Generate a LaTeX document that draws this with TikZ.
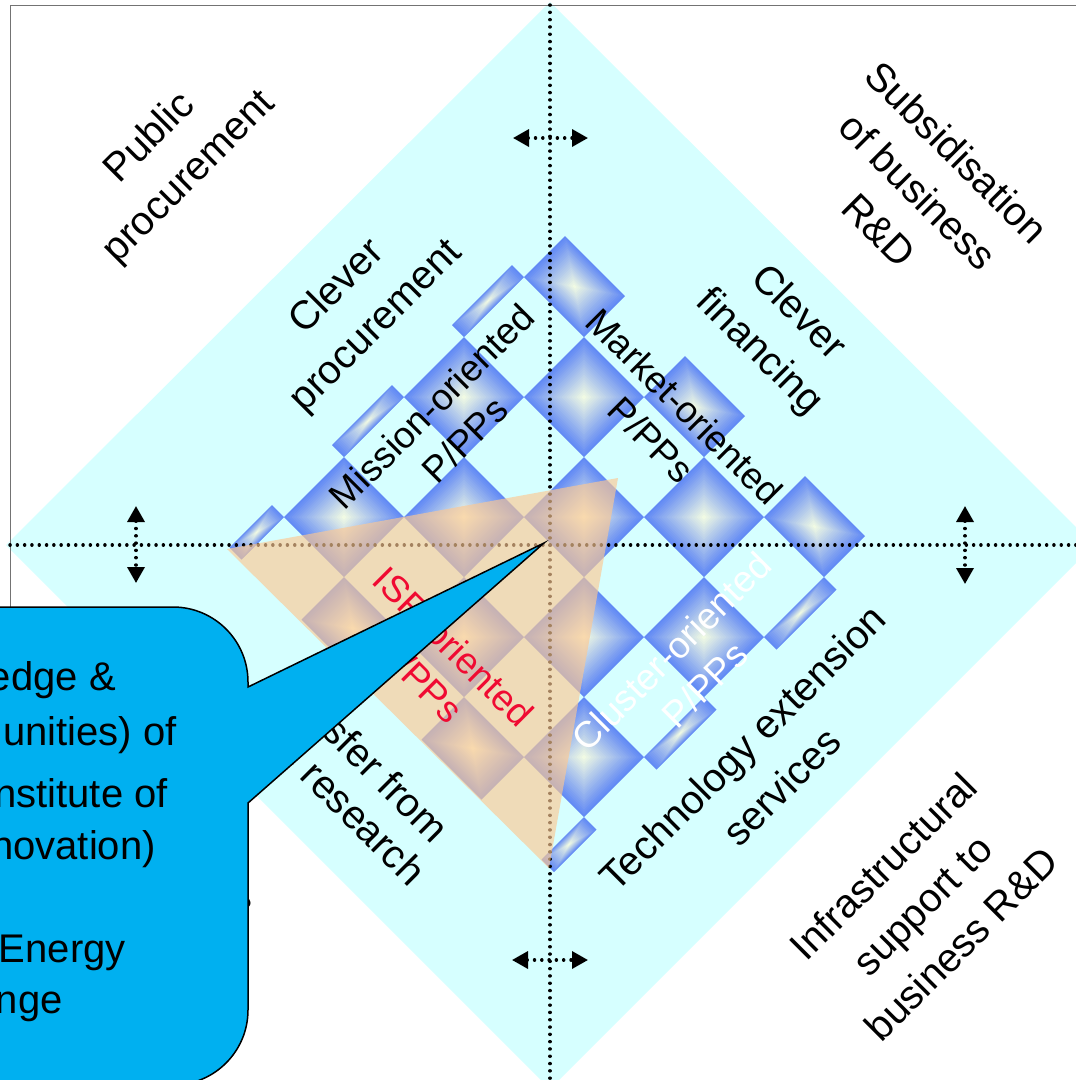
\documentclass[tikz,border=0pt]{standalone}
\usepackage{fontspec}
\setmainfont{Liberation Sans}
\usetikzlibrary{arrows.meta}
\definecolor{dcyan}{RGB}{214,255,255}
\definecolor{gcb}{RGB}{98,138,245}
\definecolor{gcl}{RGB}{240,250,228}
\definecolor{isror}{RGB}{253,200,146}
\definecolor{isrred}{RGB}{240,10,50}
\definecolor{callb}{RGB}{0,176,240}
\newcommand\gcell[4]{%
  \pgfmathsetmacro\gsc{(#1+#2)/2}%
  \pgfmathsetmacro\gdc{(#3+#4)/2}%
  \pgfmathsetmacro\ghs{(#2-#1)/2}%
  \pgfmathsetmacro\ghd{(#4-#3)/2}%
  \foreach \k in {0,...,23}{%
    \pgfmathsetmacro\gf{1-\k/24}%
    \pgfmathtruncatemacro\gp{100*\k/23}%
    \fill[gcl!\gp!gcb] (\gsc-\gf*\ghs,\gdc-\gf*\ghd) -- (\gsc+\gf*\ghs,\gdc-\gf*\ghd)
      -- (\gsc+\gf*\ghs,\gdc+\gf*\ghd) -- (\gsc-\gf*\ghs,\gdc+\gf*\ghd) -- cycle;
  }}
\tikzset{
  dotln/.style={line width=3.4pt, line cap=round, dash pattern=on 0.1pt off 7.2pt, black},
  dblarr/.style={dotln, {Triangle[length=16pt,width=17pt]}-{Triangle[length=16pt,width=17pt]}},
  lab/.style={font=\fontsize{40}{55}\selectfont, align=center, inner sep=0pt},
  plab/.style={font=\fontsize{37}{47}\selectfont, align=center, inner sep=0pt},
  cline/.style={font=\fontsize{40}{46}\selectfont, inner sep=0pt, anchor=base east},
}
\begin{document}
\begin{tikzpicture}[x=1pt,y=-1pt]
\useasboundingbox (0,0) rectangle (1076,1080);
\begin{scope}
\clip (0,0) rectangle (1076,1080);
% big cyan diamond
\coordinate (dT) at (550,2);
\coordinate (dR) at (1094,545);
\coordinate (dB) at (550,1089);
\coordinate (dL) at (6,545);
\fill[dcyan] (dT) -- (dR) -- (dB) -- (dL) -- cycle;
% frame
\draw[black!55, line width=1pt] (10,1100) -- (10,5) -- (1100,5);
% checkerboard of shaded cells
\begin{scope}[shift={(548pt,-545pt)}, x={(0.5pt,-0.5pt)}, y={(0.5pt,0.5pt)}]
 \gcell{-292}{-172}{244}{326}
 \gcell{-52}{68}{244}{326}
 \gcell{188}{308}{244}{326}
 \gcell{-316}{-292}{124}{244}
 \gcell{-172}{-52}{124}{244}
 \gcell{68}{188}{124}{244}
 \gcell{308}{333}{124}{244}
 \gcell{-292}{-172}{4}{124}
 \gcell{-52}{68}{4}{124}
 \gcell{188}{308}{4}{124}
 \gcell{-316}{-292}{-116}{4}
 \gcell{-172}{-52}{-116}{4}
 \gcell{68}{188}{-116}{4}
 \gcell{308}{333}{-116}{4}
 \gcell{-292}{-172}{-236}{-116}
 \gcell{-52}{68}{-236}{-116}
 \gcell{188}{308}{-236}{-116}
 \gcell{-316}{-292}{-321}{-236}
 \gcell{-172}{-52}{-321}{-236}
 \gcell{68}{188}{-321}{-236}
 \gcell{308}{333}{-321}{-236}
\end{scope}
% axes
\coordinate (axL) at (10,545);
\coordinate (axR) at (1080,545);
\coordinate (axT) at (550,5);
\coordinate (axB) at (550,1085);
\draw[dotln] (axL) -- (axR);
\draw[dotln] (axT) -- (axB);
% double arrows
\coordinate (aTl) at (513,138); \coordinate (aTr) at (588,138);
\coordinate (aBl) at (512,960); \coordinate (aBr) at (588,960);
\coordinate (aLt) at (136,506); \coordinate (aLb) at (136,583);
\coordinate (aRt) at (965,506); \coordinate (aRb) at (965,584);
\draw[dblarr] (aTl) -- (aTr);
\draw[dblarr] (aBl) -- (aBr);
\draw[dblarr] (aLt) -- (aLb);
\draw[dblarr] (aRt) -- (aRb);
% ISR triangle
\coordinate (t1) at (227,549);
\coordinate (t2) at (618,478);
\coordinate (t3) at (549,868);
\fill[isror, fill opacity=0.65] (t1) -- (t2) -- (t3) -- cycle;
% labels
\node[lab, rotate=45] (pubproc) at (170,158) {Public\\procurement};
\node[lab, rotate=45] (clevproc) at (357,307) {Clever\\procurement};
\node[plab, rotate=45] (mission) at (448,423) {Mission-oriented\\P/PPs};
\node[plab, rotate=-45] (market) at (668,423) {Market-oriented\\P/PPs};
\node[lab, rotate=-45] (clevfin) at (778,333) {Clever\\financing};
\node[lab, rotate=-45] (subsid) at (918,191) {Subsidisation\\of business\\R\&D};
\node[lab, rotate=45] (techext) at (762,767) {Technology extension\\services};
\node[lab, rotate=45] (infra) at (922,905) {Infrastructural\\support to\\business R\&D};
\node[plab, rotate=-45, text=isrred] (isr) at (437,663) {ISR-oriented\\P/PPs};
\node[plab, rotate=45, text=white] (cluster) at (688,668) {Cluster-oriented\\P/PPs};
\node[lab, rotate=-45, anchor=base east] (tt1) at (432,845) {transfer from};
\node[lab, rotate=-45, anchor=base east] (tt2) at (409,888) {academic research};
\node[lab, rotate=-45] (frag) at (240,905) {s};
% callout
\coordinate (tip) at (544,543);
\fill[callb, draw=black, line width=1.5pt] (-420,607) -- (173,607)
  .. controls (214.4,607) and (248,640.6) .. (248,682) -- (248,687) -- (tip)
  -- (248,803) -- (248,1010)
  .. controls (248,1051.4) and (214.4,1085) .. (173,1085) -- (-420,1085) -- cycle;
\node[cline] (cl1) at (116,690) {KICs (Knowledge \&};
\node[cline] (cl2) at (177,745) {Innovation Communities) of};
\node[cline] (cl3) at (168,807) {EIT (European Institute of};
\node[cline] (cl4) at (156,859) {Technology \& Innovation)};
\node[cline] (cl5) at (126,962) {Sustainable Energy};
\node[cline] (cl6) at (63,1013) {Climate change};
\end{scope}
\end{tikzpicture}
\end{document}
